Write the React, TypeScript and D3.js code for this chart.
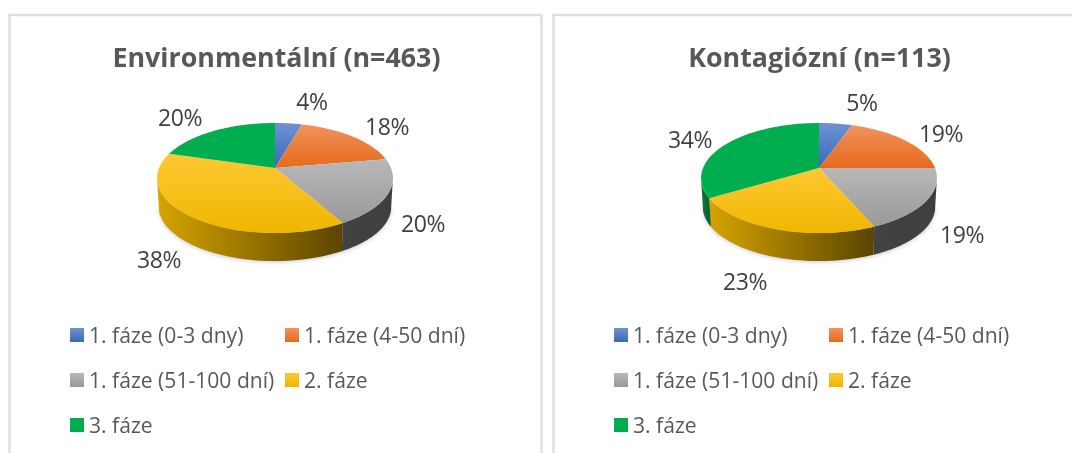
import React from "react";
import * as d3 from "d3";

const categories = ["1. fáze (0-3 dny)", "1. fáze (4-50 dní)", "1. fáze (51-100 dní)", "2. fáze", "3. fáze"];
const environmentalValues = [4.4, 17.9, 19.5, 37.7, 20.5];
const contagiousValues = [5.4, 19.6, 18.5, 22.9, 33.6];
const environmentalLabels = ["4%", "18%", "20%", "38%", "20%"];
const contagiousLabels = ["5%", "19%", "19%", "23%", "34%"];
const titles = ["Environmentální (n=463)", "Kontagiózní (n=113)"];

const faceTop = ["#6f92d3", "#f0935c", "#b8b8b8", "#fec833", "#00ae50"];
const faceBottom = ["#3a68bb", "#e66a1c", "#999999", "#efb700", "#00ae50"];
const wallLeft = ["#2c4f90", "#b0520f", "#434343", "#d6a400", "#0c7a3a"];
const wallRight = ["#223e70", "#7f3a0a", "#3e3e3e", "#5b4400", "#0a5a2c"];

const W = 1072, H = 453;
const P = 0.1818, R = 116, B = 53.2, DEPTH = 29;
const VIS_A = Math.acos(-P), VIS_B = 2 * Math.PI - VIS_A;

const rim = (cx: number, cy: number, a: number, k = 1): [number, number] => {
  const s = 1 / (1 + P * Math.cos(a));
  return [cx + R * k * Math.sin(a) * s, cy - B * k * Math.cos(a) * s];
};

const samples = (a0: number, a1: number) => d3.range(0, 41).map(i => a0 + ((a1 - a0) * i) / 40);

const pieGen = d3.pie<number>().sort(null);
const line = d3.line();

const labelOffsets = [
  [[37, -67], [112, -42], [148, 55], [-116, 91], [-95, -51]],
  [[43, -66], [122, -35], [143, 66], [-74, 113], [-129, -29]],
];

const legendRows = [
  [0, 0, 0], [1, 1, 0], [2, 0, 1], [3, 1, 1], [4, 0, 2],
];

function Pie({ cx, cy, values, labels, idx }: { cx: number; cy: number; values: number[]; labels: string[]; idx: number }) {
  const arcs = pieGen(values);
  const walls = arcs
    .map((d, i) => ({ i, a: Math.max(d.startAngle, VIS_A), b: Math.min(d.endAngle, VIS_B) }))
    .filter(d => d.b > d.a);
  const shadow = samples(VIS_A, VIS_B).map(a => rim(cx, cy + DEPTH + 1, a, 0.985));
  return (
    <g>
      <path d={line(shadow)!} fill="#777" filter="url(#soft)" opacity={0.4} />
      {walls.map(w => {
        const top = samples(w.a, w.b).map(a => rim(cx, cy, a));
        const bot = samples(w.a, w.b).map(a => rim(cx, cy + DEPTH, a, 0.985)).reverse();
        const xs = top.map(p => p[0]).concat(bot.map(p => p[0]));
        const id = `w${idx}-${w.i}`;
        return (
          <g key={w.i}>
            <linearGradient id={id} gradientUnits="userSpaceOnUse" x1={d3.min(xs)} x2={d3.max(xs)} y1={0} y2={0}>
              <stop offset="0" stopColor={wallLeft[w.i]} />
              <stop offset="1" stopColor={wallRight[w.i]} />
            </linearGradient>
            <path d={line([...top, ...bot])! + "Z"} fill={`url(#${id})`} />
          </g>
        );
      })}
      {arcs.map((d, i) => {
        const pts = samples(d.startAngle, d.endAngle).map(a => rim(cx, cy, a));
        const path = line([[cx, cy], ...pts])! + "Z";
        return <path key={i} d={path} fill={`url(#face${i})`} />;
      })}
      {labels.map((t, i) => (
        <text key={i} x={cx + labelOffsets[idx][i][0]} y={cy + labelOffsets[idx][i][1]} textAnchor="middle"
          dominantBaseline="central" fontSize={23} fill="#404040" fontFamily="'Open Sans', sans-serif" letterSpacing={-0.4}>{t}</text>
      ))}
    </g>
  );
}

function Legend({ x0 }: { x0: number }) {
  const colX = [0, 215];
  const rowY = [334, 379, 424];
  return (
    <g>
      {legendRows.map(([i, c, r]) => (
        <g key={i}>
          <rect x={x0 + colX[c]} y={rowY[r] - 6} width={14} height={14} fill={`url(#face${i})`} />
          <text x={x0 + colX[c] + 19} y={rowY[r]} dominantBaseline="central" fontSize={21.1} fill="#595959"
            fontFamily="'Open Sans', sans-serif">{categories[i]}</text>
        </g>
      ))}
    </g>
  );
}

export default function App() {
  return (
    <svg width={W} height={H} style={{ position: "absolute", left: 0, top: 0, background: "#fff" }} viewBox={`0 0 ${W} ${H}`}>
      <defs>
        <filter id="soft" x="-10%" y="-20%" width="120%" height="140%"><feGaussianBlur stdDeviation="2" /></filter>
        <filter id="aa"><feGaussianBlur stdDeviation="0.45" /></filter>
        {categories.map((_, i) => (
          <linearGradient key={i} id={`face${i}`} x1="0" x2="0" y1="0" y2="1">
            <stop offset="0" stopColor={faceTop[i]} />
            <stop offset="1" stopColor={faceBottom[i]} />
          </linearGradient>
        ))}
      </defs>
      <path d="M9.5,453V15H541.5V453" fill="none" stroke="#e0e0e0" strokeWidth={2.5} />
      <path d="M553.5,453V15H1072" fill="none" stroke="#e0e0e0" strokeWidth={2.5} />
      <g filter="url(#aa)">
        {titles.map((t, i) => (
          <text key={t} x={i === 0 ? 276.5 : 819.5} y={56} textAnchor="middle" dominantBaseline="central" fontSize={26.8}
            fontWeight={700} fill="#595959" fontFamily="'Open Sans', sans-serif">{t}</text>
        ))}
        <Pie cx={275} cy={168} values={environmentalValues} labels={environmentalLabels} idx={0} />
        <Pie cx={819} cy={168} values={contagiousValues} labels={contagiousLabels} idx={1} />
        <Legend x0={70} />
        <Legend x0={614} />
      </g>
    </svg>
  );
}
